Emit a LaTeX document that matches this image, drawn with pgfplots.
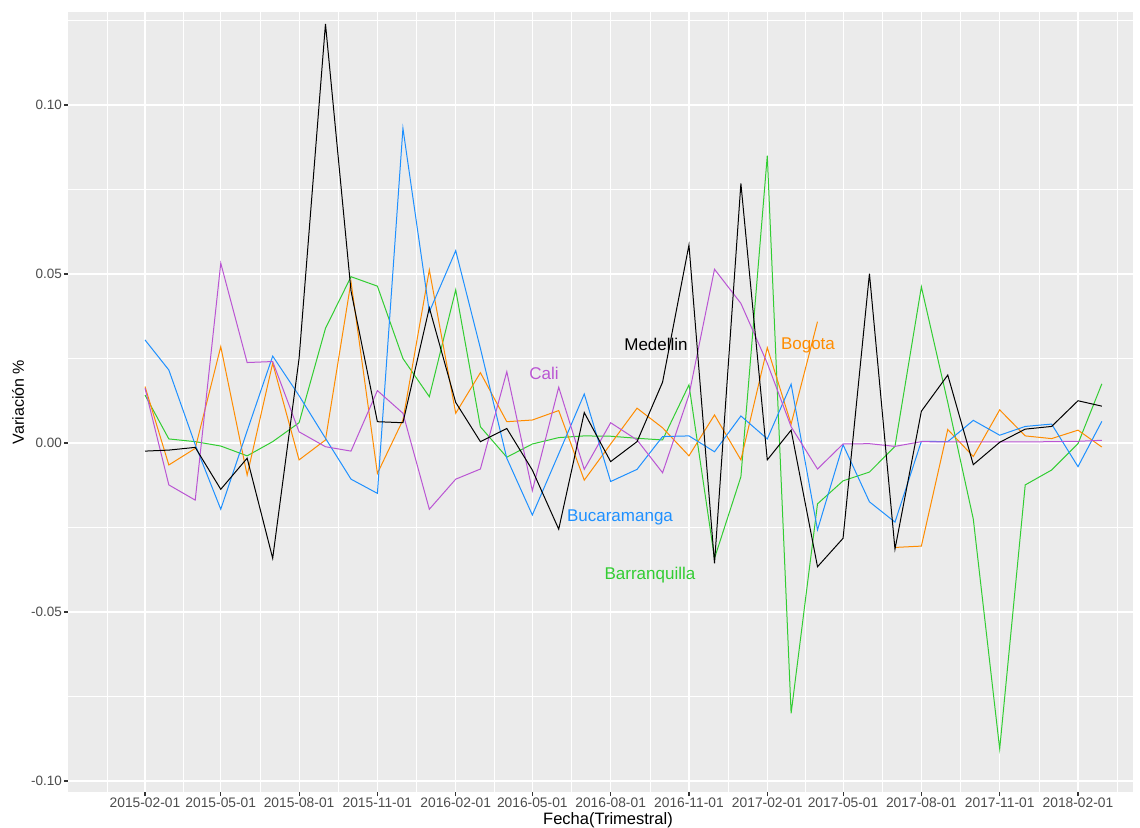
\documentclass[border=0pt]{standalone}
\usepackage{fontspec}
\setmainfont{Liberation Sans}
\usepackage{pgfplots}
\usepackage{pgfplotstable}
\pgfplotsset{compat=1.18}
\definecolor{panel}{HTML}{EBEBEB}
\definecolor{tickgray}{HTML}{4D4D4D}
\definecolor{tickmark}{HTML}{333333}
\definecolor{cMed}{HTML}{000000}
\definecolor{cBog}{HTML}{FF8C00}
\definecolor{cCali}{HTML}{BA55D3}
\definecolor{cBuc}{HTML}{1E90FF}
\definecolor{cBar}{HTML}{32CD32}
\pgfplotstableread{
d med bog cali buc bar
0 -0.0024 0.0167 0.0162 0.0305 0.0142
28 -0.0021 -0.0065 -0.0124 0.0216 0.0012
59 -0.0013 -0.0016 -0.0169 -0.0005 0.0004
89 -0.0137 0.0285 0.0532 -0.0196 -0.0009
120 -0.0045 -0.0095 0.0238 0.0036 -0.0038
150 -0.0341 0.0236 0.0241 0.0257 0.0004
181 0.025 -0.005 0.0033 0.014 0.006
212 0.124 0.0009 -0.0011 0.0014 0.0339
242 0.045 0.0477 -0.0024 -0.0107 0.0492
273 0.0063 -0.009 0.0155 -0.0149 0.0464
303 0.006 0.0068 0.0088 0.0931 0.025
334 0.040 0.0512 -0.0196 0.0388 0.0137
365 0.012 0.0088 -0.0107 0.0569 0.0453
394 0.0004 0.0208 -0.0077 0.028 0.0048
425 0.0043 0.0063 0.0211 -0.0045 -0.0042
455 -0.008 0.0068 -0.0141 -0.0213 -0.0003
486 -0.0255 0.0096 0.0165 -0.0032 0.0016
516 0.009 -0.011 -0.0078 0.0145 0.0021
547 -0.0055 -0.0003 0.006 -0.0114 0.002
578 0.0004 0.0103 0.0009 -0.0078 0.0014
608 0.018 0.0045 -0.0088 0.0019 0.0009
639 0.0586 -0.0038 0.0142 0.0021 0.0172
669 -0.0356 0.0083 0.0514 -0.0026 -0.0341
700 0.0768 -0.005 0.0413 0.008 -0.010
731 -0.005 0.0282 0.0236 0.0012 0.085
759 0.0038 0.0056 0.0048 0.0174 -0.080
790 -0.0366 0.0359 -0.0077 -0.0257 -0.0180
820 -0.0282 nan -0.0003 -0.0005 -0.0112
851 0.0501 nan -0.0002 -0.0174 -0.0086
881 -0.0314 -0.0309 -0.001 -0.0234 -0.001
912 0.0094 -0.0305 0.0004 0.0005 0.0462
943 0.0201 0.004 0.0003 0.0004 0.012
973 -0.0064 -0.004 0.0003 0.0067 -0.0225
1004 0.0002 0.0098 0.0003 0.0023 -0.0905
1034 0.0041 0.0021 0.0003 0.0049 -0.0124
1065 0.0049 0.0013 0.0004 0.0056 -0.008
1096 0.0125 0.0038 0.0005 -0.007 -0.0002
1124 0.0109 -0.0012 0.0008 0.0064 0.0175
}\data
\begin{document}
\begin{tikzpicture}
\useasboundingbox[fill=white] (0,0) rectangle (1140pt,827pt);
\begin{axis}[
  at={(68pt,35pt)}, anchor=south west,
  scale only axis, width=1065pt, height=780pt,
  xmin=-90.45, xmax=1160.6, ymin=-0.10325, ymax=0.12751,
  axis background/.style={fill=panel},
  axis line style={draw=none},
  xtick={0,89,181,273,365,455,547,639,731,820,912,1004,1096},
  xticklabels={2015-02-01,2015-05-01,2015-08-01,2015-11-01,2016-02-01,2016-05-01,2016-08-01,2016-11-01,2017-02-01,2017-05-01,2017-08-01,2017-11-01,2018-02-01},
  minor xtick={-44.6,44.5,135,227,319,410,501,593,685,775.5,866,958,1050,1141.8},
  ytick={-0.1,-0.05,0,0.05,0.1},
  yticklabels={-0.10,-0.05,0.00,0.05,0.10},
  minor ytick={-0.075,-0.025,0.025,0.075,0.125},
  grid=both,
  major grid style={white, line width=1.1pt},
  minor grid style={white, line width=0.55pt},
  tick align=outside, xtick pos=bottom, ytick pos=left,
  major tick length=4pt, minor tick length=0pt,
  tick style={tickmark, line width=1.1pt},
  xticklabel style={font=\fontsize{13.8}{13.8}\selectfont, text=tickgray, inner sep=1pt, yshift=-1pt},
  yticklabel style={font=\fontsize{13.5}{13.5}\selectfont, text=tickgray, inner sep=1pt, xshift=-1pt},
  unbounded coords=jump,
  clip=true,
]
\addplot[cBar, line width=1pt] table[x=d, y=bar] {\data};
\addplot[cBog, line width=1pt] table[x=d, y=bog] {\data};
\addplot[cBuc, line width=1pt] table[x=d, y=buc] {\data};
\addplot[cCali, line width=1pt] table[x=d, y=cali] {\data};
\addplot[cMed, line width=1pt] table[x=d, y=med] {\data};
\node[text=cMed, font=\fontsize{17}{17}\selectfont] at (axis cs:600.3,0.0293) {Medellin};
\node[text=cBog, font=\fontsize{17}{17}\selectfont] at (axis cs:778.8,0.029) {Bogota};
\node[text=cCali, font=\fontsize{17}{17}\selectfont] at (axis cs:468.7,0.0207) {Cali};
\node[text=cBuc, font=\fontsize{17}{17}\selectfont] at (axis cs:558,-0.0219) {Bucaramanga};
\node[text=cBar, font=\fontsize{17}{17}\selectfont] at (axis cs:593.2,-0.039) {Barranquilla};
\end{axis}
\node[font=\fontsize{16.5}{16.5}\selectfont] at (608pt,7pt) {Fecha(Trimestral)};
\node[font=\fontsize{16}{16}\selectfont, rotate=90] at (18pt,425pt) {Variación \%};
\end{tikzpicture}
\end{document}
